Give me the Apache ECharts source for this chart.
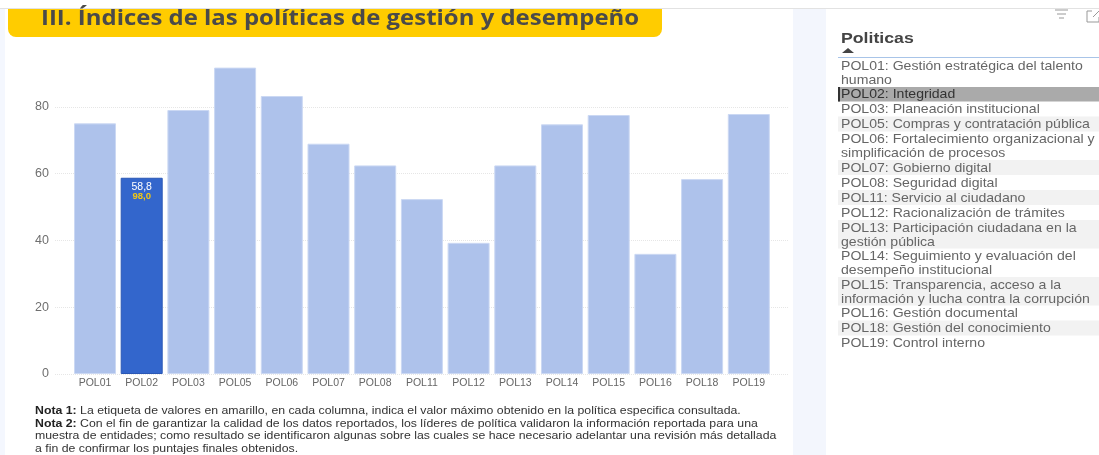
<!DOCTYPE html>
<html><head><meta charset="utf-8">
<style>html,body{margin:0;padding:0;background:#fff}#c{width:1099px;height:455px}</style>
<script src="https://cdn.jsdelivr.net/npm/echarts@6/dist/echarts.min.js"></script>
</head><body><div id="c"></div>
<script>
const categories = ['POL01','POL02','POL03','POL05','POL06','POL07','POL08','POL11','POL12','POL13','POL14','POL15','POL16','POL18','POL19'];
const values = [75.1,58.8,79.1,91.8,83.3,69.0,62.5,52.4,39.3,62.5,74.8,77.6,36.0,58.4,77.9];
const selectedCategory = 'POL02';
const selectedMaximum = '98,0';
const titleText = 'III. Índices de las políticas de gestión y desempeño';
const listTitle = 'Politicas';
const listRows = [
  ['POL01: Gestión estratégica del talento','humano'],
  ['POL02: Integridad'],
  ['POL03: Planeación institucional'],
  ['POL05: Compras y contratación pública'],
  ['POL06: Fortalecimiento organizacional y','simplificación de procesos'],
  ['POL07: Gobierno digital'],
  ['POL08: Seguridad digital'],
  ['POL11: Servicio al ciudadano'],
  ['POL12: Racionalización de trámites'],
  ['POL13: Participación ciudadana en la','gestión pública'],
  ['POL14: Seguimiento y evaluación del','desempeño institucional'],
  ['POL15: Transparencia, acceso a la','información y lucha contra la corrupción'],
  ['POL16: Gestión documental'],
  ['POL18: Gestión del conocimiento'],
  ['POL19: Control interno']
];
const notes = [
  ['Nota 1:',' La etiqueta de valores en amarillo, en cada columna, indica el valor máximo obtenido en la política especifica consultada.'],
  ['Nota 2:',' Con el fin de garantizar la calidad de los datos reportados, los líderes de política validaron la información reportada para una'],
  ['','muestra de entidades; como resultado se identificaron algunas sobre las cuales se hace necesario adelantar una revisión más detallada'],
  ['','a fin de confirmar los puntajes finales obtenidos.']
];

const FONT = '"Liberation Sans", Arial, sans-serif';
const g = [];
const rect = (x,y,w,h,fill,r) => g.push({type:'rect',silent:true,shape:{x,y,width:w,height:h,r:r||0},style:{fill},z:-10});
rect(0,9,5,446,'#f4f7fe');
rect(793,9,33,446,'#f3f6fd');
rect(0,8,1099,1,'#e2e2e2');
rect(8,9,654,28,'#ffcc00',[0,0,8,8]);
g.push({type:'text',silent:true,x:41,y:19.5,scaleX:1.14,z:5,style:{text:titleText,font:'700 21px "Open Sans", sans-serif',fill:'#4a4a4a',verticalAlign:'middle'}});
// notes
const noteY = [411,423.5,436,448.5];
notes.forEach((n,i)=>g.push({type:'text',silent:true,x:35,y:noteY[i],scaleX:1.088,z:5,style:{
  text:(n[0]?'{b|'+n[0]+'}':'')+'{n|'+n[1]+'}',verticalAlign:'middle',
  rich:{b:{font:'bold 11.3px '+FONT,fill:'#222'},n:{font:'11.3px '+FONT,fill:'#333'}}}}));
// slicer
g.push({type:'text',silent:true,x:841,y:39,scaleX:1.18,z:5,style:{text:listTitle,font:'bold 15px '+FONT,fill:'#444',verticalAlign:'middle'}});
g.push({type:'polygon',silent:true,shape:{points:[[842,53],[854,53],[848,48]]},style:{fill:'#444'},z:5});
rect(838,57,261,1,'#a8c4e8');
// rows: striped as in the slicer
let rowTop = 58;
const lineH = 14.05, singleH = 15;
listRows.forEach((r,i)=>{
  const h = r.length>1 ? 28.5 : singleH;
  const sel = r[0].startsWith(selectedCategory);
  if (sel) { rect(838,rowTop+0.5,261,14.5,'#aaaaaa'); rect(838,rowTop+0.5,2,14.5,'#333'); }
  else if (i%2===1) rect(838,rowTop,261,h,'#f2f2f2');
  r.forEach((t,j)=>g.push({type:'text',silent:true,x:841,y:rowTop+8.2+j*lineH,scaleX:1.083,z:5,style:{
    text:t,font:'13px '+FONT,fill:sel?'#333':'#666',verticalAlign:'middle'}}));
  rowTop += h;
});
// header icons
[[1055,1068,10],[1057,1066,14],[1059,1064,18]].forEach(a=>g.push({type:'line',silent:true,shape:{x1:a[0],y1:a[2],x2:a[1],y2:a[2]},style:{stroke:'#999',lineWidth:1},z:5}));
g.push({type:'polyline',silent:true,shape:{points:[[1092,11],[1087,11],[1087,22],[1099,22],[1099,17]]},style:{stroke:'#999',lineWidth:1,fill:'none'},z:5});
g.push({type:'line',silent:true,shape:{x1:1093,y1:17,x2:1099,y2:11},style:{stroke:'#999',lineWidth:1},z:5});

const chart = echarts.init(document.getElementById('c'),null,{renderer:'canvas'});
const yBase = {type:'value',min:0,max:96,interval:20};
chart.setOption({
  animation:false,
  backgroundColor:'#fff',
  grid:[
    {left:71.65,width:700.5,top:53.6,height:320.4},
    {left:55,width:733,top:53.6,height:320.4}
  ],
  xAxis:[
    {type:'category',gridIndex:0,data:categories,axisLine:{show:false},axisTick:{show:false},
      axisLabel:{color:'#666',fontFamily:FONT,fontSize:10.5,margin:3.5,interval:0}},
    {type:'value',gridIndex:1,min:0,max:1,show:false}
  ],
  yAxis:[
    {...yBase,gridIndex:0,show:false,splitLine:{show:false}},
    {...yBase,gridIndex:1,axisLine:{show:false},axisTick:{show:false},
      axisLabel:{color:'#6f6f6f',fontFamily:FONT,fontSize:12.5,margin:6,showMaxLabel:false,
        formatter:v=>v,lineHeight:14,padding:[4,0,0,0]},
      splitLine:{show:true,showMaxLine:false,lineStyle:{color:'#e6e6e6',type:'dotted',width:1}}}
  ],
  series:[{
    type:'bar',xAxisIndex:0,yAxisIndex:0,barWidth:42,
    data:values.map((v,i)=>{
      const sel = categories[i]===selectedCategory;
      return {value:v,
        itemStyle:sel?{color:'#3366cc',borderColor:'#2a57b5',borderWidth:1}:{color:'#aec2eb',borderColor:'#cbd8f3',borderWidth:1},
        label:sel?{show:true,position:'insideTop',distance:4,
          formatter:()=>'{a|'+String(v).replace('.',',')+'}\n{m|'+selectedMaximum+'}',
          rich:{a:{color:'#fff',fontFamily:FONT,fontSize:10.5,lineHeight:10,align:'center'},
                m:{color:'#f2c811',fontFamily:FONT,fontSize:9.5,fontWeight:'bold',lineHeight:9,align:'center'}}}:{show:false}};
    })
  }],
  graphic:{elements:g}
});
</script></body></html>
